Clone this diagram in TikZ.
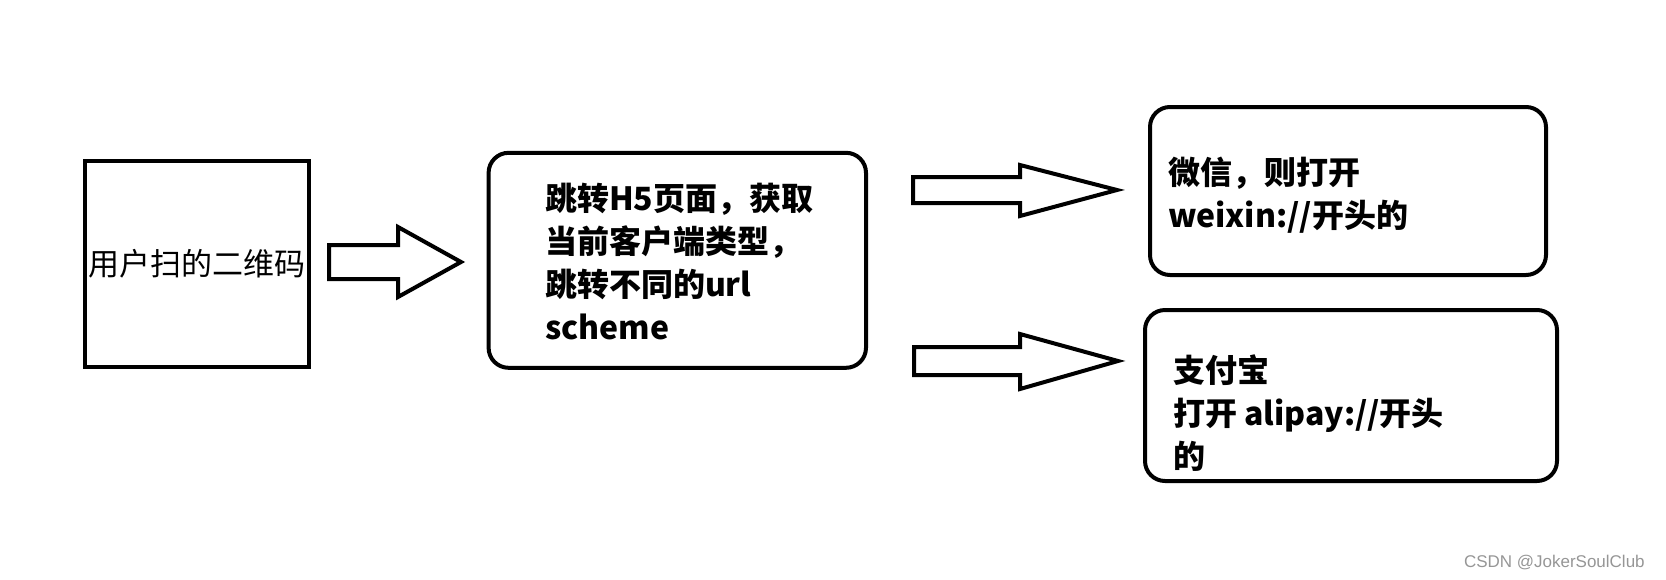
\documentclass[tikz,border=0pt]{standalone}
\usepackage{fontspec}
\newfontfamily\cjk{Noto Sans CJK SC}
\newfontfamily\wmfont{Liberation Sans}
\definecolor{wmgray}{RGB}{150,150,150}
\begin{document}
\begin{tikzpicture}[x=0.5pt,y=-0.5pt, line width=2pt, line join=miter,
  sqbox/.style={draw, inner sep=0pt},
  rbox/.style={draw, rounded corners=10pt, inner sep=0pt},
  lbl/.style={inner sep=0pt, align=left, anchor=west, font=\cjk\bfseries\fontsize{16}{21.5}\selectfont},
  blockarrow/.style={draw, fill=white}]
\useasboundingbox (0,0) rectangle (1666,579);
% boxes
\node[sqbox, minimum width=111.7pt, minimum height=102.7pt,
      font=\cjk\fontsize{15.5}{20}\selectfont] (b1) at (197,264) {用户扫的二维码};
\node[rbox, minimum width=188.7pt, minimum height=107.5pt] (b2) at (677.3,260.3) {};
\node[rbox, minimum width=198pt, minimum height=84pt] (b3) at (1348,191) {};
\node[rbox, minimum width=206pt, minimum height=85.5pt] (b4) at (1351,395.5) {};
% texts
\node[lbl] (t2) at (543,262) {跳转H5页面，获取\\当前客户端类型，\\跳转不同的url\\scheme};
\node[lbl] (t3) at (1166,195) {微信，则打开\\weixin://开头的};
\node[lbl] (t4) at (1171,413) {支付宝\\打开 alipay://开头\\的};
% block arrows
\draw[blockarrow] (329,245) -- (398,245) -- (398,227) -- (461,262) -- (398,297) -- (398,279) -- (329,279) -- cycle;
\draw[blockarrow] (913,177) -- (1020,177) -- (1020,165) -- (1117,190) -- (1020,216) -- (1020,203) -- (913,203) -- cycle;
\draw[blockarrow] (914,347) -- (1020,347) -- (1020,334) -- (1118,361) -- (1020,389) -- (1020,375) -- (914,375) -- cycle;
% watermark
\node[inner sep=0pt, anchor=west, text=wmgray, font=\wmfont\fontsize{8.5}{10}\selectfont] (wm) at (1462,563) {CSDN @JokerSoulClub};
\end{tikzpicture}
\end{document}
